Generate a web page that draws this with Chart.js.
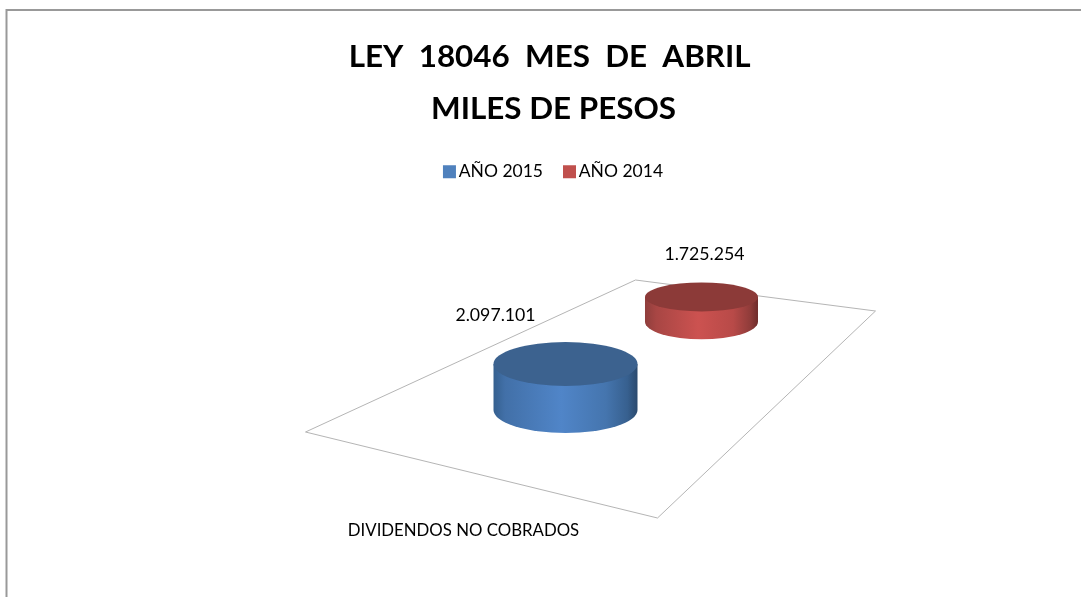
<!DOCTYPE html>
<html><head><meta charset="utf-8">
<style>html,body{margin:0;padding:0;background:#fff}canvas{display:block}</style>
<script src="https://cdn.jsdelivr.net/npm/chart.js@4/dist/chart.umd.js"></script>
</head><body><canvas id="c" width="1081" height="597"></canvas>
<script>
const titleLines = ["LEY  18046  MES  DE  ABRIL ", "MILES DE PESOS"];
const categories = ["DIVIDENDOS NO COBRADOS"];
const seriesNames = ["AÑO 2015", "AÑO 2014"];
const valores2015 = [2097101];
const valores2014 = [1725254];
const axisMin = 917000;
const axisMax = 6549000;

const FONT = "Lato, Carlito, Calibri, sans-serif";
const looks = [
  {dx:80, dy:0, rx:72, ryTop:22, ryBase:23, hs:1, labelDx:-70, labelDy:-49, top:"#3c628f",
   stops:[[0,"#35608f"],[.08,"#4270a8"],[.47,"#5085c8"],[.78,"#4575ae"],[.93,"#37608f"],[1,"#2b4a6e"]]},
  {dx:80, dy:-88.3, rx:56.5, ryTop:14.5, ryBase:17.6, hs:.785, labelDx:3, labelDy:-43, top:"#8c3a38",
   stops:[[0,"#8f3e3c"],[.1,"#a84644"],[.47,"#cc5250"],[.78,"#b84a48"],[.93,"#903c3a"],[1,"#6e2c2b"]]}
];
const floorOffsets = [[-248,22],[82,-130],[322,-99],[104,108]];

class CylinderController extends Chart.BarController {
  draw(){
    const ctx = this.chart.ctx, s = looks[this.index];
    this.getMeta().data.forEach(bar=>{
      const cx = bar.x + s.dx, base = bar.base + s.dy;
      const topY = base - (bar.base - bar.y) * s.hs;
      const g = ctx.createLinearGradient(cx-s.rx,0,cx+s.rx,0);
      s.stops.forEach(p=>g.addColorStop(p[0],p[1]));
      ctx.save();
      ctx.beginPath();
      ctx.moveTo(cx-s.rx,topY);
      ctx.lineTo(cx-s.rx,base);
      ctx.ellipse(cx,base,s.rx,s.ryBase,0,Math.PI,0,true);
      ctx.lineTo(cx+s.rx,topY);
      ctx.closePath();
      ctx.fillStyle = g; ctx.fill();
      ctx.beginPath();
      ctx.ellipse(cx,topY,s.rx,s.ryTop,0,0,Math.PI*2);
      ctx.fillStyle = s.top; ctx.fill();
      ctx.restore();
    });
  }
}
CylinderController.id = "cylinder";
CylinderController.defaults = Chart.BarController.defaults;
CylinderController.overrides = Chart.BarController.overrides;
Chart.register(CylinderController);

const sceneryPlugin = {
  id:"scenery",
  beforeDraw(chart){
    const ctx = chart.ctx;
    chart.legend.left += 2.5; chart.legend.right += 2.5;
    ctx.save();
    ctx.fillStyle="#fff"; ctx.fillRect(0,0,chart.width,chart.height);
    ctx.strokeStyle="#999"; ctx.lineWidth=2;
    ctx.beginPath(); ctx.moveTo(6.5,chart.height); ctx.lineTo(6.5,10); ctx.lineTo(chart.width,10); ctx.stroke();
    ctx.restore();
  },
  afterDraw(chart){ chart.legend.left -= 2.5; chart.legend.right -= 2.5; },
  beforeDatasetsDraw(chart){
    const ctx = chart.ctx, a = chart.chartArea;
    const ox = (a.left+a.right)/2, oy = a.bottom;
    ctx.save();
    ctx.strokeStyle="#b5b5b5"; ctx.lineWidth=1;
    ctx.beginPath();
    floorOffsets.forEach((p,i)=> i? ctx.lineTo(ox+p[0],oy+p[1]) : ctx.moveTo(ox+p[0],oy+p[1]));
    ctx.closePath(); ctx.stroke();
    ctx.restore();
  },
  afterDatasetsDraw(chart){
    const ctx = chart.ctx;
    ctx.save();
    ctx.font = "17.7px "+FONT; ctx.fillStyle="#000"; ctx.textAlign="center"; ctx.textBaseline="middle";
    chart.data.datasets.forEach((d,i)=>{
      const s = looks[i], bar = chart.getDatasetMeta(i).data[0];
      const txt = String(d.data[0]).replace(/\B(?=(\d{3})+$)/g,".");
      const topY = bar.base + s.dy - (bar.base-bar.y)*s.hs;
      ctx.fillText(txt, bar.x+s.dx+s.labelDx, topY+s.labelDy);
    });
    ctx.restore();
  }
};

new Chart(document.getElementById("c"),{
  type:"cylinder",
  data:{labels:categories,datasets:[
    {label:seriesNames[0],data:valores2015,backgroundColor:"#4f81bd",base:axisMin,clip:false},
    {label:seriesNames[1],data:valores2014,backgroundColor:"#c0504d",base:axisMin,clip:false}
  ]},
  options:{
    responsive:false,animation:false,
    layout:{padding:{left:26,right:0,top:31,bottom:47}},
    datasets:{cylinder:{barPercentage:1,categoryPercentage:0.2578}},
    plugins:{
      tooltip:{enabled:false},
      title:{display:true,text:titleLines,color:"#000",padding:{top:0,bottom:2},
        font:{family:FONT,size:31.4,weight:"bold",lineHeight:1.656}},
      legend:{display:true,position:"top",
        labels:{usePointStyle:true,pointStyle:"rect",boxWidth:1,boxHeight:13,padding:26,color:"#000",
          font:{family:FONT,size:17.5}}}
    },
    scales:{
      x:{grid:{display:false},border:{display:false},
        afterFit(s){ s.height = 140; },
        ticks:{padding:103,labelOffset:-90,maxRotation:0,autoSkip:false,color:"#000",font:{family:FONT,size:16.8}}},
      y:{display:false,min:axisMin,max:axisMax}
    }
  },
  plugins:[sceneryPlugin]
});
</script></body></html>
